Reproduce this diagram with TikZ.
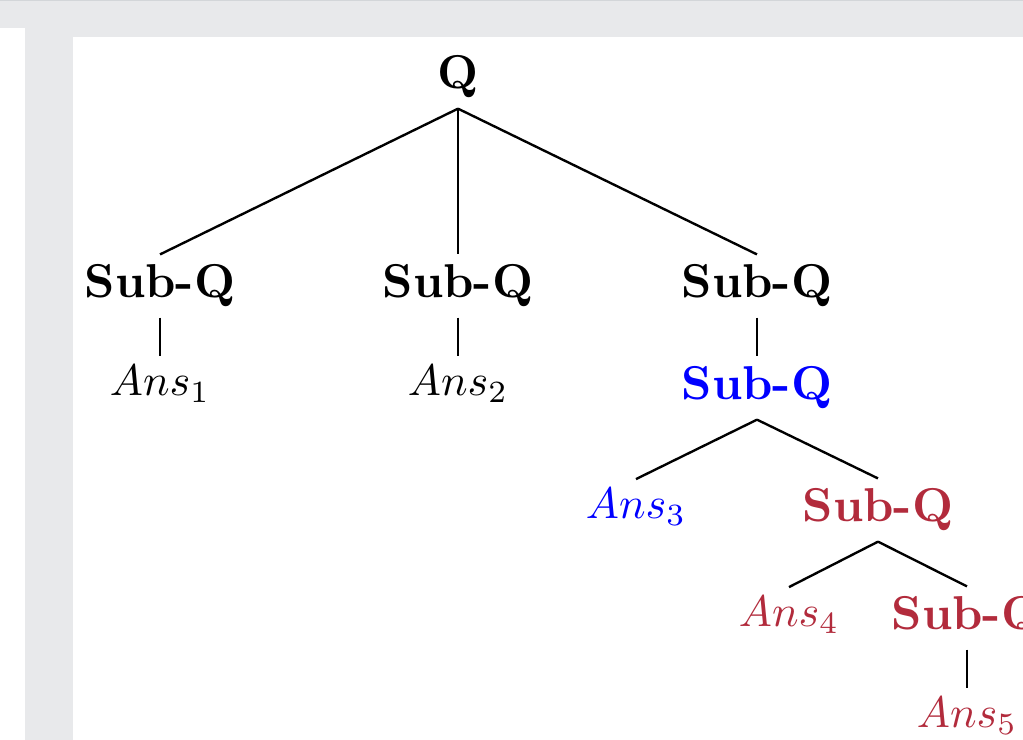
\documentclass[tikz,border=0pt]{standalone}
\usepackage{xcolor}
\definecolor{bgray}{HTML}{E8E9EB}
\definecolor{tline}{HTML}{D3D6D9}
\definecolor{dred}{HTML}{B22B3C}
\definecolor{pblue}{HTML}{0000FF}
\begin{document}
\begin{tikzpicture}[x=0.2105pt,y=-0.2105pt,
  tn/.style={anchor=base,inner sep=2pt},
  an/.style={anchor=base,inner sep=2pt,scale=0.93},
  edge/.style={draw=black,line width=0.5pt}]
\useasboundingbox (0,0) rectangle (1023,740);
\fill[white] (0,0) rectangle (1023,740);
\fill[bgray] (25,0) rectangle (1023,740);
\fill[bgray] (0,0) rectangle (1023,28);
\fill[white] (73,37) rectangle (1023,740);
\fill[tline] (0,0) rectangle (1023,1.5);
\begin{scope}
\clip (73,37) rectangle (1023,740);
\node[tn] (q) at (458,89) {\textbf{Q}};
\node[tn] (s1) at (160,298) {\textbf{Sub-Q}};
\node[tn] (s2) at (458,298) {\textbf{Sub-Q}};
\node[tn] (s3) at (757,298) {\textbf{Sub-Q}};
\node[an] (a1) at (160,396) {$Ans_1$};
\node[an] (a2) at (458,396) {$Ans_2$};
\node[tn,text=pblue] (b1) at (757,400) {\textbf{Sub-Q}};
\node[an,text=pblue] (a3) at (636,519) {$Ans_3$};
\node[tn,text=dred] (r1) at (878,522) {\textbf{Sub-Q}};
\node[an,text=dred] (a4) at (789,627) {$Ans_4$};
\node[tn,text=dred] (r2) at (967,630) {\textbf{Sub-Q}};
\node[an,text=dred] (a5) at (967,728) {$Ans_5$};
\draw[edge] (q.south) -- (s1.north);
\draw[edge] (q.south) -- (s2.north);
\draw[edge] (q.south) -- (s3.north);
\draw[edge] (s1.south) -- (a1.north);
\draw[edge] (s2.south) -- (a2.north);
\draw[edge] (s3.south) -- (b1.north);
\draw[edge] (b1.south) -- (a3.north);
\draw[edge] (b1.south) -- (r1.north);
\draw[edge] (r1.south) -- (a4.north);
\draw[edge] (r1.south) -- (r2.north);
\draw[edge] (r2.south) -- (a5.north);
\end{scope}
\end{tikzpicture}
\end{document}
